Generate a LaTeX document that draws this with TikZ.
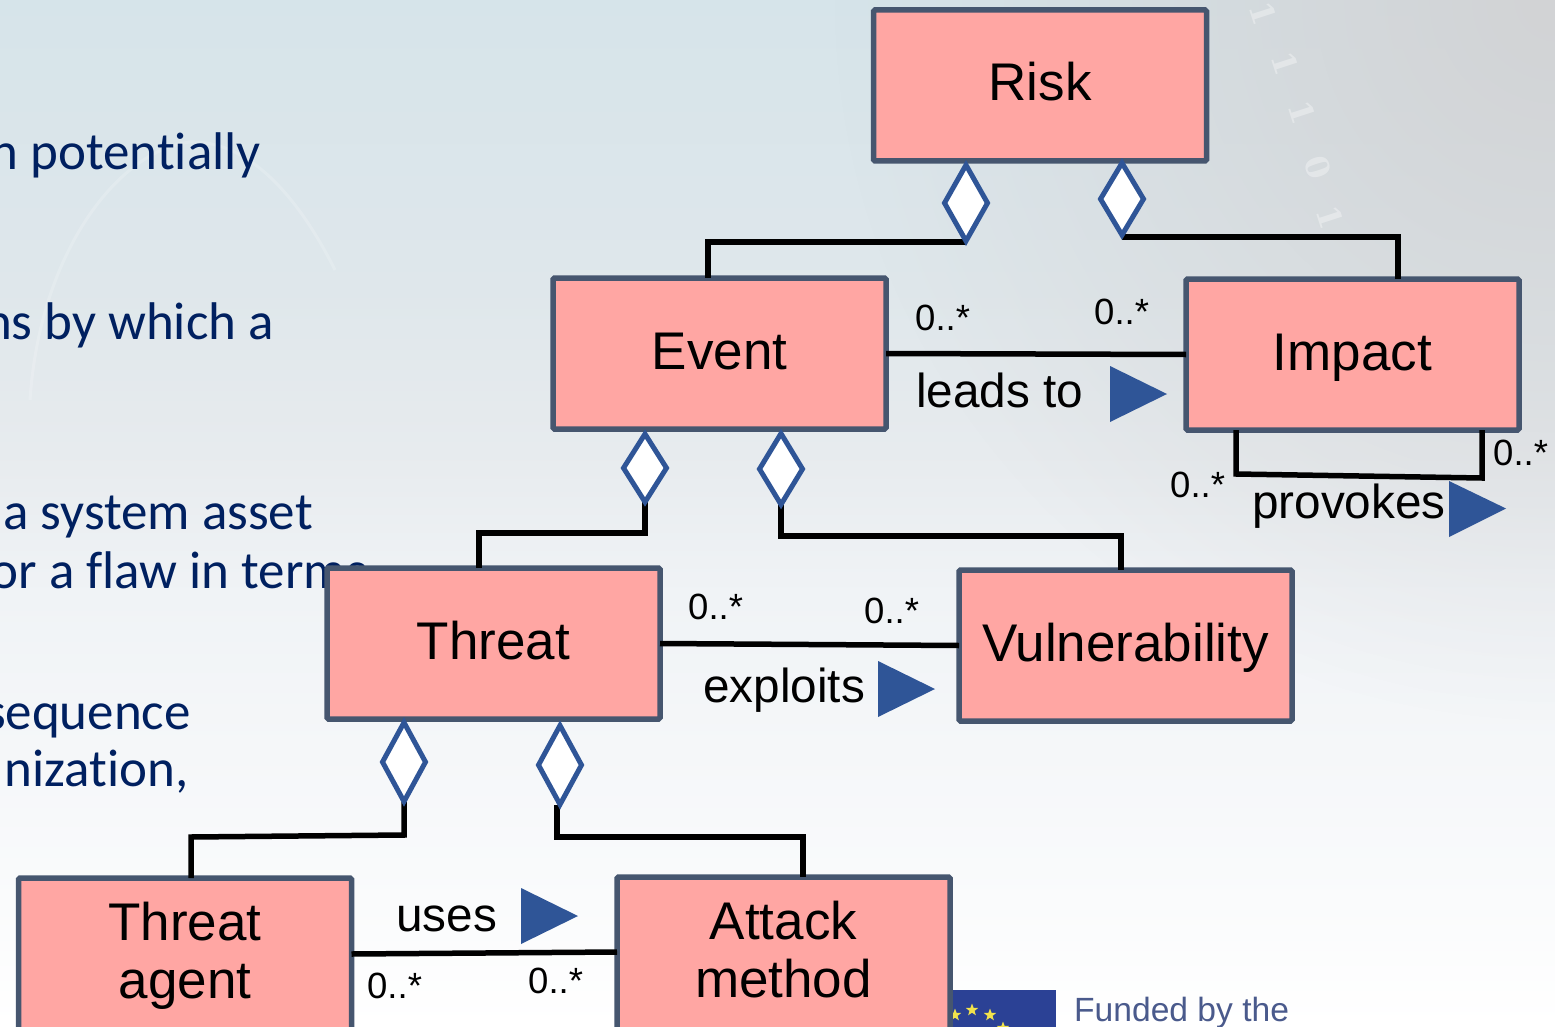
\documentclass[tikz,border=0pt]{standalone}
\usepackage{graphicx}
\usepackage{fontspec}
\setmainfont{Liberation Sans}
\newfontfamily\slidefont[Ligatures=NoCommon]{Carlito}
\newfontfamily\digitfont{DejaVu Serif}
\usetikzlibrary{shapes.geometric,fadings}
\definecolor{boxfill}{HTML}{FFA6A3}
\definecolor{boxline}{HTML}{46566F}
\definecolor{diablue}{HTML}{2F5597}
\definecolor{slidetext}{HTML}{002060}
\definecolor{eublue}{HTML}{2B4195}
\definecolor{eustar}{HTML}{F2E34C}
\definecolor{fundtext}{HTML}{4A5A8C}
\definecolor{bgA}{HTML}{D6E4EA}
\definecolor{bgB}{HTML}{DFE7EB}
\definecolor{bgC}{HTML}{E7EBEE}
\definecolor{bgD}{HTML}{F0F3F6}
\definecolor{bgE}{HTML}{FAFBFC}
\definecolor{bgGrey}{HTML}{D2D3D5}
\pgfdeclareverticalshading{bgv}{100bp}{
  color(0bp)=(white); color(25bp)=(white); color(31bp)=(bgE);
  color(46bp)=(bgD); color(53bp)=(bgC); color(61bp)=(bgB); color(75bp)=(bgA); color(100bp)=(bgA)}
\tikzfading[name=cornerfade,inner color=transparent!0,outer color=transparent!100]
\pgfdeclarelayer{toplayer}
\pgfsetlayers{main,toplayer}
\tikzset{
  x=1pt,y=-1pt,
  classbox/.style={draw=boxline,line width=5.5pt,fill=boxfill,rounded corners=1.5pt,minimum width=333pt,minimum height=151pt,inner sep=0pt,outer sep=0pt,align=center,font=\fontsize{53}{58}\selectfont},
  oneline/.style={text height=31pt,text depth=0pt},
  aggr/.style={draw=diablue,line width=5pt,fill=white,diamond,minimum width=43pt,inner sep=0pt,outer sep=0pt},
  conn/.style={draw=black,line width=5.5pt,line cap=butt,line join=miter},
  mult/.style={anchor=base west,inner sep=0pt,font=\fontsize{36.5}{40}\selectfont},
  rolelabel/.style={anchor=base west,inner sep=0pt,font=\fontsize{47.7}{52}\selectfont},
  dirarrow/.style={fill=diablue},
  slideline/.style={anchor=base east,inner sep=0pt,text=slidetext,font=\slidefont\fontsize{53}{60}\selectfont},
  eustarshape/.style={star,star points=5,star point ratio=2.4,fill=eustar,minimum size=13pt,inner sep=0pt},
  ghost/.style={draw=white,opacity=.18,line width=3pt},
  ghostdigit/.style={text=white,opacity=.35,rotate=-72,inner sep=0pt,font=\digitfont\bfseries\fontsize{32}{36}\selectfont},
}
\begin{document}
\begin{tikzpicture}
\useasboundingbox (0,0) rectangle (1555,1027);
\clip (0,0) rectangle (1555,1027);
% background
\shade[shading=bgv] (0,0) rectangle (1555,1027);
\fill[bgGrey,path fading=cornerfade] (1555,0) circle (720);
% faint background texture
\draw[ghost] (30,400) .. controls (40,250) and (120,150) .. (190,142) .. controls (260,140) and (310,220) .. (335,270);
\node[ghostdigit] (g1) at (1263,13) {1};
\node[ghostdigit] (g2) at (1285,63) {1};
\node[ghostdigit] (g3) at (1302,112) {1};
\node[ghostdigit] (g4) at (1318,167) {0};
\node[ghostdigit] (g5) at (1330,217) {1};
% cut-off slide text behind the diagram
\node[slideline] (t1) at (261,169.5) {n potentially};
\node[slideline] (t2) at (274,339.5) {ns by which a};
\node[slideline] (t3) at (313,529.5) {a system asset};
\node[slideline] (t4) at (367,588.5) {or a flaw in terms};
\node[slideline] (t5) at (191,729.5) {sequence};
\node[slideline] (t6) at (189,786.5) {nization,};
% funding logo
\fill[eublue] (940,990) rectangle (1056,1027);
\node[eustarshape] (s1) at (955,1015) {};
\node[eustarshape] (s2) at (972,1010) {};
\node[eustarshape] (s3) at (990,1015) {};
\node[eustarshape] (s4) at (1003,1028) {};
\node[anchor=base west,inner sep=0pt,text=fundtext,font=\fontsize{33.6}{38}\selectfont] (fund) at (1074,1021) {Funded by the};
% classes
\node[classbox,oneline] (risk) at (1040,85.5) {Risk};
\node[classbox,oneline] (event) at (719.5,353.5) {Event};
\node[classbox,oneline] (impact) at (1352.5,354.5) {Impact};
\node[classbox,oneline] (threat) at (493.5,643.5) {Threat};
\node[classbox,oneline] (vuln) at (1125.5,645.5) {Vulnerability};
\node[classbox,minimum height=156pt] (agent) at (185,956) {Threat\\agent};
\node[classbox,minimum height=157pt] (attack) at (783.5,955.5) {Attack\\method\rule[-12pt]{0pt}{0pt}};
% aggregation diamonds, above the connectors
\begin{pgfonlayer}{toplayer}
\node[aggr,minimum height=76pt] (d1) at (966,203) {};
\node[aggr,minimum height=72pt] (d2) at (1122,199) {};
\node[aggr,minimum height=68pt] (d3) at (645,468) {};
\node[aggr,minimum height=71pt] (d4) at (781,469) {};
\node[aggr,minimum height=79pt] (d5) at (404,762) {};
\node[aggr,minimum height=79pt] (d6) at (560,765) {};
\end{pgfonlayer}
% connectors
\draw[conn] ([yshift=-1pt]d1.south) -| ([xshift=-11.5pt]event.north);
\draw[conn] ([yshift=-2pt]d2.south) -| ([xshift=45.5pt]impact.north);
\draw[conn] (d3.south) -- ++(0,31) -| ([xshift=-14.5pt]threat.north);
\draw[conn] (d4.south) -- ++(0,31.5) -| ([xshift=-4.5pt]vuln.north);
\draw[conn] (d5.south) -- ++(0,33.5) -- ++(-213,2) -- ([xshift=6pt]agent.north);
\draw[conn] ([xshift=-3pt]d6.south) -- ++(0,32.5) -| ([xshift=19.5pt]attack.north);
\draw[conn] (event.east) -- (impact.west);
\draw[conn] (threat.east) -- (vuln.west);
\draw[conn] ([yshift=2pt]agent.east) -- ([yshift=3.5pt]attack.west);
\draw[conn] ([xshift=-116.5pt]impact.south) -- ++(0,44) -- ++(246,4) -- ([xshift=129.5pt]impact.south);
% direction arrows
\fill[dirarrow] (1110,366) -- (1167,394) -- (1110,422) -- cycle;
\fill[dirarrow] (1449,481) -- (1506,508.5) -- (1449,537) -- cycle;
\fill[dirarrow] (878,661) -- (935,689) -- (878,717) -- cycle;
\fill[dirarrow] (521,888) -- (578,916) -- (521,944) -- cycle;
% role labels
\node[rolelabel] (l1) at (916,407) {leads to};
\node[rolelabel] (l2) at (1252,518) {provokes};
\node[rolelabel] (l3) at (703,702) {exploits};
\node[rolelabel] (l4) at (396,931) {uses};
% multiplicities
\node[mult] (m1) at (915,330.5) {0..*};
\node[mult] (m2) at (1094,324.5) {0..*};
\node[mult] (m3) at (1170,497) {0..*};
\node[mult] (m4) at (1493,465) {0..*};
\node[mult] (m5) at (688,619.5) {0..*};
\node[mult] (m6) at (864,623.5) {0..*};
\node[mult] (m7) at (367,998.5) {0..*};
\node[mult] (m8) at (528,993.5) {0..*};
\end{tikzpicture}
\end{document}
